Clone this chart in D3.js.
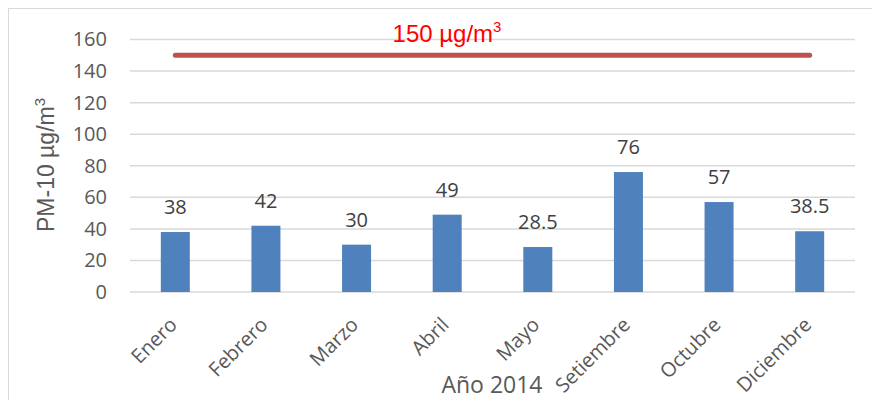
<!DOCTYPE html>
<html>
<head>
<meta charset="utf-8">
<script src="https://cdn.jsdelivr.net/npm/d3@7"></script>
<style>
  html, body { margin: 0; padding: 0; background: #fff; }
  svg { display: block; }
</style>
</head>
<body>
<svg id="chart" width="872" height="400"></svg>
<script>
// Monthly PM-10 means, 2014
const months = ["Enero", "Febrero", "Marzo", "Abril", "Mayo", "Setiembre", "Octubre", "Diciembre"];
const pm10 = [38, 42, 30, 49, 28.5, 76, 57, 38.5];
const valueLabels = ["38", "42", "30", "49", "28.5", "76", "57", "38.5"];
const yTicks = [0, 20, 40, 60, 80, 100, 120, 140, 160];
const limitValue = 150;
const limitLabel = "150 µg/m";

const svg = d3.select("#chart");
const font = "'Open Sans', Lato, sans-serif";
const arial = "'Liberation Sans', Arial, sans-serif";

// outer frame
svg.append("rect")
  .attr("x", 8.5).attr("y", 8.5)
  .attr("width", 900).attr("height", 420)
  .attr("fill", "#fff").attr("stroke", "#d9d9d9").attr("stroke-width", 1);

const plot = { left: 130, right: 855, top: 39.5, bottom: 292 };

const x = d3.scaleBand().domain(months).range([plot.left, plot.right]).paddingInner(0.68).paddingOuter(0.34);
const y = d3.scaleLinear().domain([0, 160]).range([plot.bottom, plot.top]);

// gridlines
svg.append("g")
  .selectAll("line").data(yTicks).join("line")
  .attr("x1", plot.left).attr("x2", plot.right)
  .attr("y1", d => y(d)).attr("y2", d => y(d))
  .attr("stroke", "#d9d9d9").attr("stroke-width", 1.5);

// y axis labels
const yAxis = svg.append("g")
  .attr("transform", `translate(${plot.left},0)`)
  .call(d3.axisLeft(y).tickValues(yTicks).tickSize(0).tickPadding(23));
yAxis.select(".domain").remove();
yAxis.selectAll("text")
  .attr("font-family", font).attr("font-size", 20).attr("fill", "#595959");

// bars
svg.append("g")
  .selectAll("rect").data(months).join("rect")
  .attr("x", d => x(d))
  .attr("y", (d, i) => y(pm10[i]))
  .attr("width", x.bandwidth())
  .attr("height", (d, i) => y(0) - y(pm10[i]))
  .attr("fill", "#4f81bd");

// value labels
svg.append("g")
  .selectAll("text").data(months).join("text")
  .attr("x", d => x(d) + x.bandwidth() / 2)
  .attr("y", (d, i) => y(pm10[i]) - 18)
  .attr("text-anchor", "middle")
  .attr("font-family", font).attr("font-size", 20).attr("fill", "#404040")
  .text((d, i) => valueLabels[i]);

// category labels, rotated
const xAxis = svg.append("g")
  .attr("transform", `translate(0,${plot.bottom})`)
  .call(d3.axisBottom(x).tickSize(0).tickPadding(0));
xAxis.select(".domain").remove();
xAxis.selectAll("text")
  .attr("font-family", font).attr("font-size", 20).attr("fill", "#595959")
  .attr("text-anchor", "end")
  .attr("dy", 0)
  .attr("transform", "translate(3,34) rotate(-45)");

// limit line
const cx0 = x(months[0]) + x.bandwidth() / 2;
const cx1 = x(months[months.length - 1]) + x.bandwidth() / 2;
svg.append("line")
  .attr("x1", cx0).attr("x2", cx1)
  .attr("y1", y(limitValue)).attr("y2", y(limitValue))
  .attr("stroke", "#c0504d").attr("stroke-width", 5).attr("stroke-linecap", "round");

const lim = svg.append("text")
  .attr("x", 447).attr("y", 42)
  .attr("text-anchor", "middle")
  .attr("font-family", arial).attr("font-size", 24)
  .attr("fill", "#ff0000");
lim.append("tspan").text(limitLabel);
lim.append("tspan").attr("font-size", 15).attr("dy", -10).text("3");

// axis titles
svg.append("text")
  .attr("x", 492).attr("y", 393)
  .attr("text-anchor", "middle")
  .attr("font-family", font).attr("font-size", 23).attr("fill", "#595959")
  .text("Año 2014");

const yt = svg.append("text")
  .attr("transform", "translate(54,165) rotate(-90)")
  .attr("text-anchor", "middle")
  .attr("font-family", arial).attr("font-size", 23).attr("fill", "#595959");
yt.append("tspan").text("PM-10 µg/m");
yt.append("tspan").attr("font-size", 15).attr("dy", -9).text("3");
</script>
</body>
</html>
